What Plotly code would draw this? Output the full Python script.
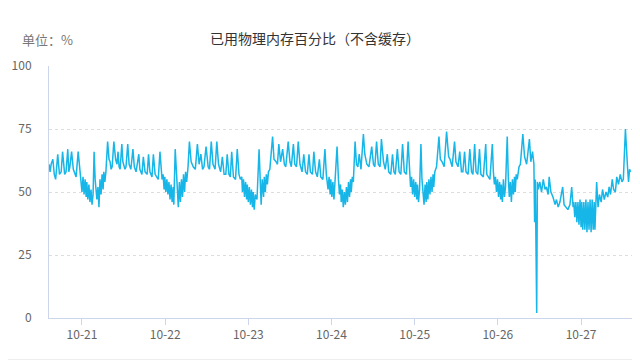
import plotly.graph_objects as go
import pandas as pd

# hours since 2023-10-20 00:00
hours = [
14.5,14.8,15.1,15.6,16.0,16.4,17.0,17.5,18.0,18.4,19.0,19.4,19.9,20.2,20.5,21.0,21.5,22.3,22.9,23.4,
23.7,24.0,24.3,24.6,24.9,25.2,25.4,25.7,26.0,26.3,26.6,26.9,27.2,27.5,27.8,28.0,28.3,28.6,28.9,29.2,
29.5,29.8,30.1,30.3,30.6,30.9,31.4,31.8,32.1,32.4,32.7,33.2,33.7,34.1,34.4,34.7,35.0,35.5,35.8,36.4,
36.7,37.2,37.6,38.1,38.7,39.1,39.6,40.4,40.7,41.3,41.7,42.2,42.8,43.2,43.6,44.2,44.6,45.1,46.0,46.5,
46.9,47.1,47.4,47.7,47.9,48.2,48.5,48.8,49.1,49.4,49.7,50.0,50.3,50.5,50.9,51.3,51.5,51.8,52.1,52.4,
52.7,53.0,53.3,53.6,53.9,54.2,54.6,55.0,55.5,56.1,56.7,57.3,57.8,58.3,58.8,59.2,59.8,60.4,60.8,61.3,
61.8,62.4,62.9,63.4,64.0,64.5,65.0,65.5,65.9,66.4,66.8,67.2,67.7,68.3,68.8,69.3,69.7,
70.1,70.3,70.6,70.9,71.2,71.5,71.7,72.0,72.3,72.6,72.9,73.2,73.4,73.7,74.0,74.5,75.1,75.5,75.7,76.0,
76.4,76.6,76.9,77.2,77.5,77.8,78.2,79.0,79.4,80.0,80.4,80.8,81.3,81.9,82.4,82.8,83.5,84.0,84.4,85.0,
85.4,85.9,86.4,86.9,87.5,88.0,88.5,89.0,89.5,89.9,90.5,90.9,91.4,91.9,92.5,92.9,93.5,94.1,94.5,
95.0,95.3,95.6,95.8,96.1,96.4,96.7,97.0,97.6,98.0,98.3,98.6,98.8,99.1,99.4,99.7,100.0,100.3,100.6,100.9,
101.2,101.5,101.7,102.0,102.3,102.8,103.2,103.6,104.0,104.5,105.2,105.6,106.2,106.8,107.6,108.1,108.5,109.0,109.5,110.0,
110.4,111.0,111.5,112.1,112.5,113.1,113.6,114.0,114.4,115.0,115.5,116.0,116.5,117.0,117.6,118.1,118.5,
118.8,119.1,119.4,119.7,120.0,120.3,120.6,120.8,121.1,121.4,121.8,122.1,122.4,122.7,123.0,123.3,123.5,123.8,124.1,124.4,
124.7,125.0,125.3,125.5,125.8,126.3,127.0,127.4,127.9,128.5,129.2,129.8,130.2,130.8,131.5,131.9,132.5,133.0,133.5,133.9,
134.4,134.8,135.4,135.9,136.4,136.8,137.3,137.7,138.2,138.7,139.1,139.8,140.5,140.8,141.7,142.4,142.7,
143.0,143.3,143.6,143.9,144.2,144.5,144.8,145.0,145.3,145.6,145.9,146.2,146.7,147.0,147.3,147.6,147.9,148.2,148.5,148.8,
149.0,149.3,149.6,150.1,150.5,151.2,151.7,152.3,153.1,153.5,154.0,154.4,154.6,154.8,155.0,155.2,155.4,
155.7,156.1,156.6,157.1,157.6,158.0,158.5,158.8,159.3,159.9,160.5,160.9,161.4,161.9,162.7,163.1,163.7,164.2,164.8,165.3,165.7,
165.9,166.2,166.5,166.8,167.1,167.4,167.7,168.0,168.2,168.5,168.8,169.1,169.4,169.7,170.0,170.3,170.6,170.9,171.2,171.5,171.8,172.0,
172.5,172.9,173.3,173.8,174.2,174.7,175.2,175.7,176.1,176.5,177.0,177.4,177.9,178.3,178.8,179.3,179.8,180.2,180.8,181.4,181.7,182.0,182.3,
]
values = [
61,58,61,63,57,55,65,57,58,66,57,58,67,58,60,66,59,56,66,57,
54,50,56,49,55,48,54,47,53,46,51,45,49,66,55,50,47,52,44,55,
49,57,51,58,54,58,70,63,62,59,60,70,63,61,66,60,59,69,62,59,
60,69,61,59,67,60,58,65,59,57,64,58,57,65,58,56,65,57,55,66,
58,55,57,51,56,50,55,49,54,47,53,46,52,45,67,55,49,44,54,46,
55,48,57,50,58,54,60,70,62,60,59,69,61,65,59,60,68,60,59,70,
61,59,70,61,58,64,57,57,65,57,56,66,56,55,67,57,55,
56,50,55,48,54,47,53,46,52,45,51,44,50,43,49,47,67,52,45,55,
48,56,50,57,53,58,59,72,63,62,61,69,62,67,61,60,70,62,60,69,
61,60,70,61,58,65,58,57,65,58,57,66,58,56,63,56,55,67,57,
51,56,49,55,48,54,47,53,68,55,49,53,46,51,44,50,45,52,46,54,
48,55,50,56,54,70,61,60,65,59,73,65,61,60,68,61,60,70,61,60,
71,62,59,65,58,57,65,58,57,67,58,57,69,58,57,70,57,
52,56,49,55,48,54,47,53,46,51,69,55,49,45,53,46,54,47,55,49,
56,50,57,52,58,60,72,63,62,60,74,64,63,60,70,62,60,66,58,58,
66,58,57,67,58,57,69,58,57,67,57,56,69,57,55,69,58,
53,56,50,55,48,54,47,53,46,55,48,52,72,56,48,54,46,55,49,56,
50,57,55,60,61,73,64,61,71,62,66,61,38,55,31,2,54,
51,54,50,55,51,52,49,56,50,48,45,47,44,46,52,45,44,43,45,52,44,
46,40,46,38,46,37,47,36,46,35,46,35,47,34,46,35,47,34,47,35,46,35,
54,44,49,46,51,47,50,48,52,49,55,51,50,56,53,57,54,55,75,60,54,59,58,
]

base = pd.Timestamp("2023-10-20 00:00")
times = [(base + pd.Timedelta(hours=h)).strftime("%Y-%m-%d %H:%M:%S") for h in hours]

y_ticks = [0, 25, 50, 75, 100]
title_text = "已用物理内存百分比（不含缓存）"
unit_text = "单位：%"

font_family = "Noto Sans CJK SC, Noto Sans, sans-serif"

# the page places the figure 8px in from the top-left corner
OFF = 8
W, H = 640 - OFF, 361 - OFF
L, R, T, B = 49 - OFF, 8, 66 - OFF, 43
pw = W - L - R
ph = H - T - B

def px(x):
    return (x - OFF - L) / pw

def py(y):
    return (H - B - (y - OFF)) / ph

fig = go.Figure()
fig.add_trace(go.Scatter(
    x=times, y=values, mode="lines",
    line=dict(color="#16b6e8", width=1.5),
    hoverinfo="skip", showlegend=False,
))

fig.update_layout(
    width=W, height=H,
    margin=dict(l=L, r=R, t=T, b=B, autoexpand=False),
    paper_bgcolor="white", plot_bgcolor="white",
    font=dict(family=font_family, size=12, color="#666666"),
    showlegend=False,
    annotations=[
        dict(text=title_text, x=px(315), y=py(38), xref="paper", yref="paper",
             xanchor="center", yanchor="middle",
             showarrow=False, font=dict(size=14, color="#333333", family=font_family)),
        dict(text=unit_text, x=px(20), y=py(40), xref="paper", yref="paper",
             xanchor="left", yanchor="middle",
             showarrow=False, font=dict(size=13, color="#777777", family=font_family)),
    ],
)

fig.update_xaxes(
    type="date", automargin=False,
    range=["2023-10-20 14:29", "2023-10-27 14:42"],
    tick0="2023-10-21", dtick=86400000, tickformat="%m-%d",
    showgrid=False, showline=True, linecolor="#ccd6eb", linewidth=1,
    ticks="outside", ticklen=6, tickcolor="#ccd6eb",
    tickfont=dict(size=12, color="#666666"), zeroline=False,
)
fig.update_yaxes(
    range=[0, 100], tickvals=y_ticks, automargin=False,
    showgrid=True, gridcolor="#dddddd", griddash="dot", gridwidth=1,
    showline=True, linecolor="#ccd6eb", linewidth=1,
    ticks="", ticklabelstandoff=14,
    tickfont=dict(size=12, color="#666666"), zeroline=False,
)
# faint card border at the bottom of the picture
fig.add_shape(type="line", xref="paper", yref="paper",
              x0=px(OFF), x1=px(640), y0=py(359.5), y1=py(359.5),
              line=dict(color="#eeeeee", width=1), layer="below")

fig.write_html("out.html")
